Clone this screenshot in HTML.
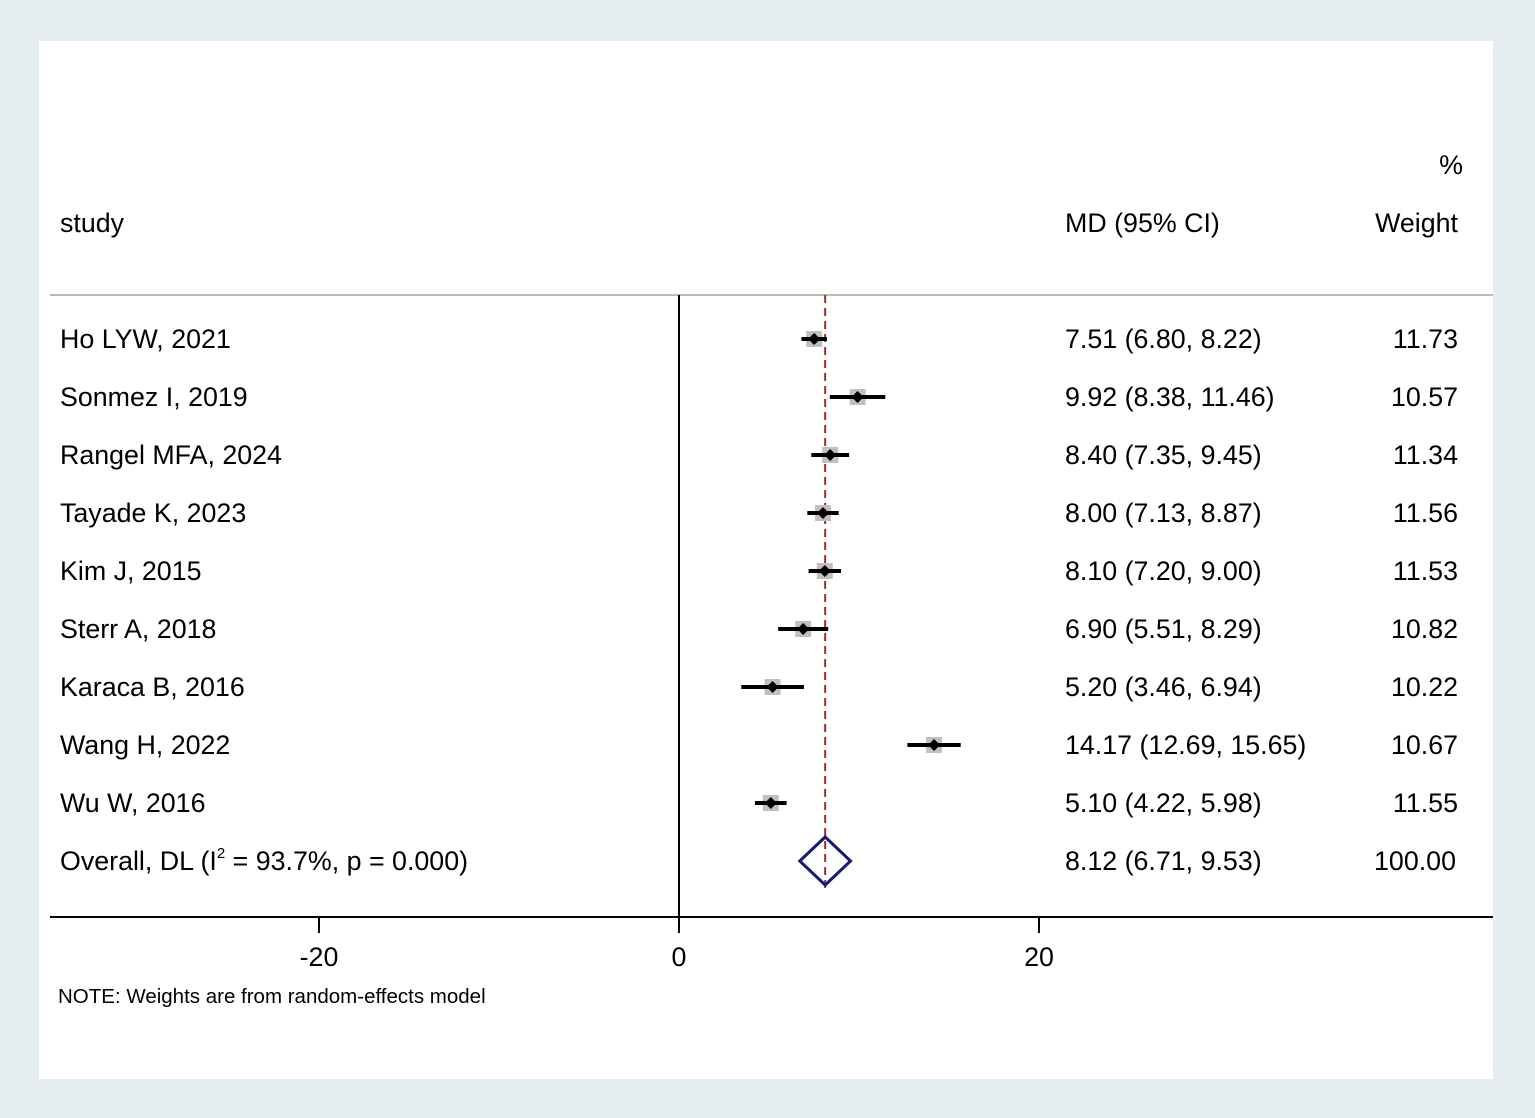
<!DOCTYPE html>
<html><head><meta charset="utf-8"><style>
body{margin:0;background:#e6edf0;}
svg{display:block;font-family:"Liberation Sans",Arial,sans-serif;}
</style></head><body>
<svg width="1535" height="1118">
<rect x="0" y="0" width="1535" height="1118" fill="#e6edf0"/>
<rect x="39" y="41" width="1454" height="1038" fill="#fff"/>
<g font-size="26.8" fill="#000">
<text x="1463" y="174" text-anchor="end">%</text>
<text x="60" y="232">study</text>
<text x="1065" y="232">MD (95% CI)</text>
<text x="1458" y="232" text-anchor="end">Weight</text>
</g>
<line x1="50" y1="295" x2="1493" y2="295" stroke="#bbb" stroke-width="2"/>
<g id="plot"></g>
<text x="58" y="1003" font-size="20.5">NOTE: Weights are from random-effects model</text>
</svg>
<script>
const studies=["Ho LYW, 2021","Sonmez I, 2019","Rangel MFA, 2024","Tayade K, 2023","Kim J, 2015","Sterr A, 2018","Karaca B, 2016","Wang H, 2022","Wu W, 2016"];
const md=[7.51,9.92,8.40,8.00,8.10,6.90,5.20,14.17,5.10];
const lo=[6.80,8.38,7.35,7.13,7.20,5.51,3.46,12.69,4.22];
const hi=[8.22,11.46,9.45,8.87,9.00,8.29,6.94,15.65,5.98];
const weights=["11.73","10.57","11.34","11.56","11.53","10.82","10.22","10.67","11.55"];
const overall=[8.12,6.71,9.53];
const ticks=[-20,0,20];
const NS="http://www.w3.org/2000/svg";
const g=document.getElementById('plot');
const X=v=>679+v*18;
const Y=i=>339+i*58;
const FS=26.8;
function mk(t,a){const e=document.createElementNS(NS,t);for(const k in a)e.setAttribute(k,a[k]);g.appendChild(e);return e;}
function txt(x,y,s,anchor){const e=mk('text',{x:x,y:y+9,'font-size':FS,'text-anchor':anchor||'start'});e.textContent=s;return e;}
let e;
e=mk('line',{x1:X(0),y1:295,x2:X(0),y2:917,stroke:'#000','stroke-width':2});


e=mk('line',{x1:50,y1:917,x2:1493,y2:917,stroke:'#000','stroke-width':2});


ticks.forEach(t=>{
 e=mk('line',{x1:X(t),y1:917,x2:X(t),y2:933,stroke:'#000','stroke-width':2});
 
 
 e=mk('text',{x:X(t),y:966,'font-size':FS,'text-anchor':'middle'});e.textContent=t;
 
 
});
e=mk('line',{x1:X(overall[0]),y1:295,x2:X(overall[0]),y2:890,stroke:'#a52a2a','stroke-width':2,'stroke-dasharray':'8,5'});


studies.forEach((s,i)=>{
 const y=Y(i);
 e=txt(60,y,s);
 
 
 e=txt(1065,y,md[i].toFixed(2)+" ("+lo[i].toFixed(2)+", "+hi[i].toFixed(2)+")");
 
 
 e=txt(1458,y,weights[i],'end');
 
 
 e=mk('rect',{x:X(md[i])-8,y:y-8,width:16,height:16,fill:'#c0c0c0'});
 
 
 e=mk('line',{x1:X(lo[i]),y1:y,x2:X(hi[i]),y2:y,stroke:'#000','stroke-width':4});
 
 
 const cx=X(md[i]);
 e=mk('polygon',{points:`${cx-6},${y} ${cx},${y-6} ${cx+6},${y} ${cx},${y+6}`,fill:'#000'});
 
 
});
const oy=Y(9);
e=mk('text',{x:60,y:oy+9,'font-size':FS});
e.innerHTML='Overall, DL (I<tspan dy="-12" font-size="15">2</tspan><tspan dy="12"> = 93.7%, p = 0.000)</tspan>';


e=txt(1065,oy,overall[0].toFixed(2)+" ("+overall[1].toFixed(2)+", "+overall[2].toFixed(2)+")");


e=txt(1456,oy,"100.00",'end');


e=mk('polygon',{points:`${X(overall[1])},${oy} ${X(overall[0])},${oy-24} ${X(overall[2])},${oy} ${X(overall[0])},${oy+24}`,fill:'none',stroke:'#1a1a6e','stroke-width':3});


</script>
</body></html>
